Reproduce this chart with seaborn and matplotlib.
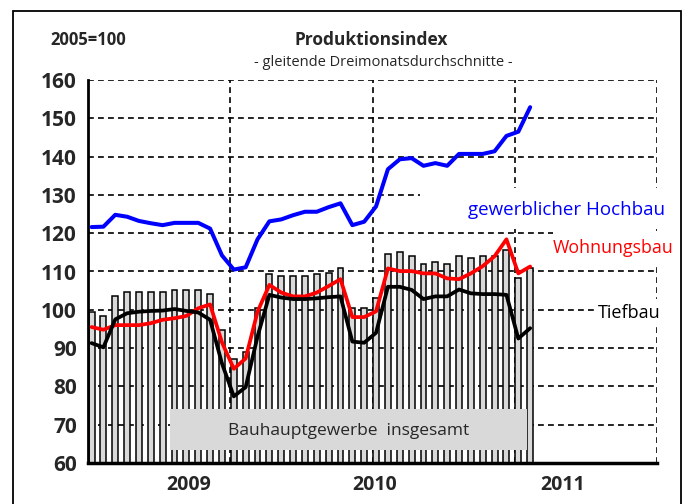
import numpy as np
import pandas as pd
import seaborn as sns
import matplotlib.pyplot as plt
from matplotlib.patches import Rectangle

# Produktionsindex, gleitende Dreimonatsdurchschnitte (2005=100), one value per month
bauhaupt = [99.5, 98.4, 103.7, 104.6, 104.6, 104.6, 104.6, 105.2, 105.2, 105.2,
            104.1, 94.7, 87.1, 88.9, 100.4, 109.3, 108.8, 108.8, 108.8, 109.3,
            109.7, 110.8, 100.6, 100.4, 103.0, 114.5, 115.0, 114.0, 112.0, 112.4,
            112.0, 114.0, 113.6, 114.0, 114.0, 115.6, 108.4, 111.0]
hochbau = [121.6, 121.7, 124.8, 124.3, 123.2, 122.6, 122.1, 122.7, 122.7, 122.7,
           121.2, 114.2, 110.5, 111.1, 118.4, 123.1, 123.6, 124.7, 125.6, 125.6,
           126.8, 127.8, 122.1, 123.0, 127.0, 136.7, 139.3, 139.6, 137.6, 138.3,
           137.6, 140.7, 140.7, 140.7, 141.4, 145.4, 146.5, 152.9]
wohnungsbau = [95.5, 94.8, 96.0, 96.0, 96.0, 96.5, 97.4, 97.8, 98.4, 100.4,
               101.4, 91.5, 84.6, 87.3, 99.5, 106.5, 104.5, 103.5, 103.5, 104.5,
               106.2, 108.0, 98.1, 98.1, 99.6, 110.8, 110.1, 110.1, 109.5, 109.5,
               108.2, 108.0, 109.5, 111.4, 114.0, 118.4, 109.5, 111.3]
tiefbau = [91.3, 90.2, 97.5, 99.1, 99.5, 99.7, 99.8, 100.2, 99.7, 99.3,
           97.4, 86.0, 77.4, 79.8, 93.0, 103.9, 103.2, 102.8, 102.8, 103.0,
           103.3, 103.5, 91.7, 91.4, 94.0, 106.0, 106.0, 105.2, 102.8, 103.5,
           103.5, 105.3, 104.3, 104.1, 104.1, 103.9, 92.5, 95.2]

year_labels = ["2009", "2010", "2011"]
year_label_pos = [8.5, 24.2, 40.0]
y_ticks = list(range(60, 161, 10))

sns.set_style("white")
plt.rcParams["font.family"] = ["Open Sans", "DejaVu Sans"]

df = pd.DataFrame({
    "monat": np.arange(len(bauhaupt)) + 0.3,
    "bauhaupt": bauhaupt,
    "hochbau": hochbau,
    "wohnungsbau": wohnungsbau,
    "tiefbau": tiefbau,
})

W, H = 692, 504
fig = plt.figure(figsize=(W / 100, H / 100), dpi=100)
ax = fig.add_axes([88 / W, 41 / H, 569 / W, 383 / H])

# outer frame
fig.patches.append(Rectangle((13 / W, -0.05), 668 / W, 1.05 - 11 / H, transform=fig.transFigure,
                             fill=False, edgecolor="black", linewidth=1.3))

# dashed grid
dash = (0, (3.5, 2.5))
for v in y_ticks[1:]:
    ax.axhline(v, color="black", lw=1.2, ls=dash, zorder=1)
for m in (12, 24, 36, 48):
    ax.axvline(m, color="black", lw=1.2, ls=dash, zorder=1)

sns.barplot(data=df, x="monat", y="bauhaupt", native_scale=True, width=0.5,
            color="#d9d9d9", saturation=1, edgecolor="black", linewidth=1.1,
            errorbar=None, ax=ax, zorder=2)

sns.lineplot(data=df, x="monat", y="hochbau", color="#0000ff", linewidth=2.9, ax=ax, zorder=4)
sns.lineplot(data=df, x="monat", y="wohnungsbau", color="#ff0000", linewidth=2.7, ax=ax, zorder=4)
sns.lineplot(data=df, x="monat", y="tiefbau", color="black", linewidth=2.7, ax=ax, zorder=4)

ax.set_xlim(0, 48)
ax.set_ylim(60, 160)
ax.set_xlabel("")
ax.set_ylabel("")

ax.set_yticks(y_ticks)
ax.set_yticklabels([str(v) for v in y_ticks], fontweight="bold")
ax.tick_params(axis="y", direction="inout", length=10, width=1.3, labelsize=15, pad=3, color="black")
ax.set_xticks([0, 12, 24, 36, 48])
ax.set_xticklabels([])
ax.set_xticks(np.arange(0, 49, 1), minor=True)
ax.tick_params(axis="x", which="major", direction="inout", length=10, width=1.3, color="black")
ax.tick_params(axis="x", which="minor", direction="in", length=4, width=1, color="black")

for s in ("top", "right"):
    ax.spines[s].set_visible(False)
ax.spines["left"].set_linewidth(2)
ax.spines["left"].set_color("black")
ax.spines["bottom"].set_linewidth(2.5)
ax.spines["bottom"].set_color("black")

for lab, pos in zip(year_labels, year_label_pos):
    ax.text(pos, -0.057, lab, transform=ax.get_xaxis_transform(), ha="center", va="center",
            fontsize=14, fontweight="bold")

# total box
ax.add_patch(Rectangle((0.1441, 0.034), 0.6274, 0.107, transform=ax.transAxes,
                       facecolor="#d9d9d9", edgecolor="none", zorder=3))
ax.text(0.4587, 0.0836, "Bauhauptgewerbe  insgesamt", transform=ax.transAxes,
        ha="center", va="center", fontsize=12.5, zorder=3.5)


def px_box(x0, y0, x1, y1):
    return Rectangle(((x0 - 88) / 569, (463 - y1) / 383), (x1 - x0) / 569, (y1 - y0) / 383,
                     transform=ax.transAxes, facecolor="white", edgecolor="none",
                     zorder=6, clip_on=False)


ax.add_patch(px_box(420, 188, 678, 229))
ax.add_patch(px_box(553, 231, 678, 263))
ax.add_patch(px_box(598, 299, 678, 327))
ax.text((566 - 88) / 569, (463 - 210) / 383, "gewerblicher Hochbau", transform=ax.transAxes,
        ha="center", va="center", fontsize=13.5, color="#0000ff", zorder=7, clip_on=False)
ax.text((613 - 88) / 569, (463 - 248) / 383, "Wohnungsbau", transform=ax.transAxes,
        ha="center", va="center", fontsize=12.8, color="#ff0000", zorder=7, clip_on=False)
ax.text((629 - 88) / 569, (463 - 313) / 383, "Tiefbau", transform=ax.transAxes,
        ha="center", va="center", fontsize=13, color="black", zorder=7, clip_on=False)

fig.text(88 / W, 1 - 40 / H, "2005=100", ha="center", va="center", fontsize=12, fontweight="bold")
fig.text(371 / W, 1 - 40 / H, "Produktionsindex", ha="center", va="center", fontsize=12.5,
         fontweight="bold")
fig.text(383 / W, 1 - 62 / H, "- gleitende Dreimonatsdurchschnitte -", ha="center", va="center",
         fontsize=10.5)

fig.savefig("out.png", dpi=100)
